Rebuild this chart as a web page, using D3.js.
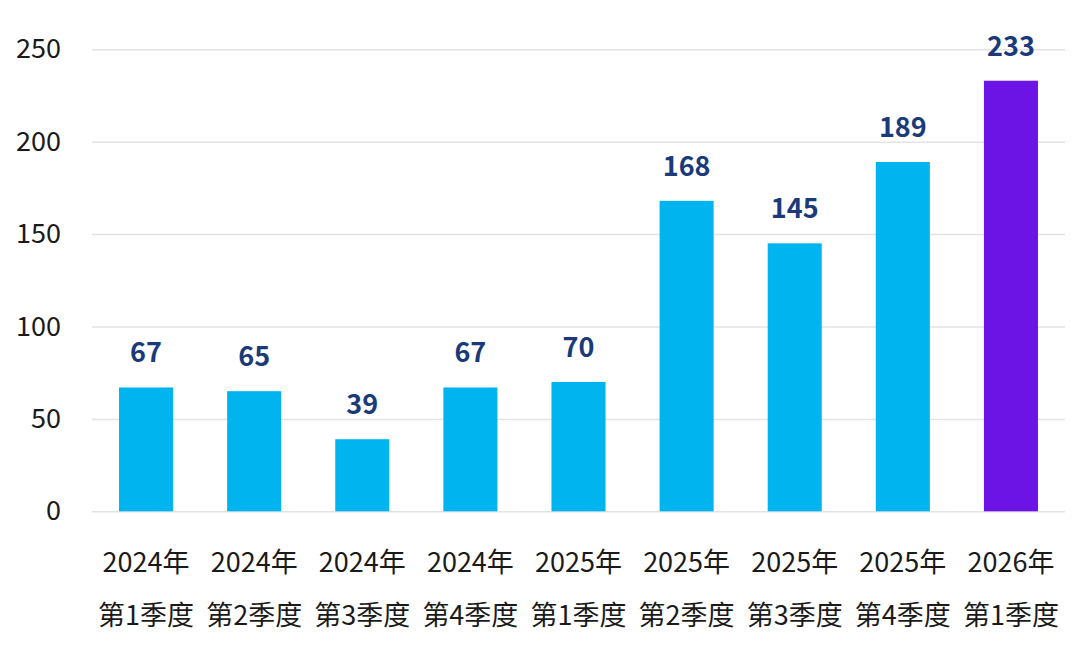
<!DOCTYPE html>
<html>
<head>
<meta charset="utf-8">
<script src="https://cdn.jsdelivr.net/npm/d3@7"></script>
<style>
  html, body { margin: 0; padding: 0; background: #fff; }
  svg { display: block; font-family: "Noto Sans CJK SC", "Noto Sans", sans-serif; }
</style>
</head>
<body>
<svg width="1080" height="655"></svg>
<script>
var years = ["2024年", "2024年", "2024年", "2024年", "2025年", "2025年", "2025年", "2025年", "2026年"];
var quarters = ["第1季度", "第2季度", "第3季度", "第4季度", "第1季度", "第2季度", "第3季度", "第4季度", "第1季度"];
var values = [67, 65, 39, 67, 70, 168, 145, 189, 233];
var yTicks = [0, 50, 100, 150, 200, 250];

var svg = d3.select("svg");

const plotLeft = 92;
const plotRight = 1065;
const plotTop = 49.3;
const plotBottom = 511.3;

var idx = d3.range(values.length);

var x = d3.scaleBand()
    .domain(idx)
    .range([plotLeft, plotRight])
    .paddingInner(0.5)
    .paddingOuter(0.25);

var y = d3.scaleLinear()
    .domain([0, 250])
    .range([plotBottom, plotTop]);

// gridlines + y labels
var yAxis = svg.append("g")
    .attr("transform", "translate(" + plotLeft + ",0)")
    .call(d3.axisLeft(y).tickValues(yTicks).tickSize(-(plotRight - plotLeft)).tickPadding(31));
yAxis.select(".domain").remove();
yAxis.selectAll(".tick line")
    .style("stroke", "#e3e3e3")
    .style("stroke-width", 1.5);
yAxis.selectAll(".tick text")
    .style("font-size", "27px")
    .style("fill", "#1a1a1a")
    .style("font-family", "'Noto Sans CJK SC', 'Noto Sans', sans-serif");

// bars
svg.selectAll("rect.bar")
    .data(idx)
    .enter()
    .append("rect")
    .attr("class", "bar")
    .attr("x", function (d) { return x(d); })
    .attr("width", x.bandwidth())
    .attr("y", function (d) { return y(values[d]); })
    .attr("height", function (d) { return y(0) - y(values[d]); })
    .style("fill", function (d) { return d === values.length - 1 ? "#6c14e6" : "#00b4ef"; });

// value labels
svg.selectAll("text.val")
    .data(idx)
    .enter()
    .append("text")
    .attr("class", "val")
    .attr("text-anchor", "middle")
    .attr("x", function (d) { return x(d) + x.bandwidth() / 2; })
    .attr("y", function (d) { return y(values[d]) - 25; })
    .style("font-size", "27px")
    .style("font-weight", "bold")
    .style("fill", "#1a3a7a")
    .text(function (d) { return values[d]; });

// x labels
var xl = svg.selectAll("text.xl")
    .data(idx)
    .enter()
    .append("text")
    .attr("class", "xl")
    .attr("text-anchor", "middle")
    .style("font-size", "27px")
    .style("fill", "#1a1a1a");
xl.append("tspan")
    .attr("x", function (d) { return x(d) + x.bandwidth() / 2; })
    .attr("y", 572)
    .text(function (d) { return years[d]; });
xl.append("tspan")
    .attr("x", function (d) { return x(d) + x.bandwidth() / 2; })
    .attr("y", 625)
    .text(function (d) { return quarters[d]; });
</script>
</body>
</html>
